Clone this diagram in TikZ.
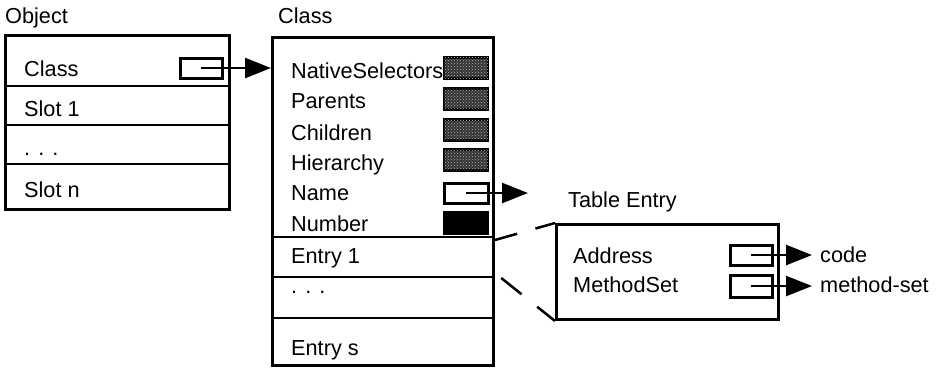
\documentclass[tikz,border=0pt]{standalone}
\usepackage{fontspec}
\setmainfont{Liberation Sans}
\usetikzlibrary{arrows.meta,patterns}

\tikzset{
  lbl/.style={anchor=base west, inner sep=0pt, font=\fontsize{21.7}{24}\selectfont},
  frame/.style={draw, line width=3pt, inner sep=0pt, anchor=north west},
  ptr/.style={draw, line width=3pt, fill=white, minimum width=42pt, minimum height=20pt, inner sep=0pt},
  solid box/.style={draw, line width=2.5pt, fill=black, minimum width=44pt, minimum height=21pt, inner sep=0pt},
  sel/.style={solid box, fill=black!80, postaction={pattern=crosshatch dots, pattern color=black!30}},
  link/.style={line width=2.5pt, -{Triangle[length=26pt,width=20pt]}},
  brk/.style={line width=2.5pt},
}

\begin{document}
\begin{tikzpicture}[x=1pt,y=-1pt]
  \useasboundingbox (0,0) rectangle (943,368);

  % Object
  \node[lbl] (objtitle) at (5,23) {Object};
  \node[frame, minimum width=224pt, minimum height=174pt] (obj) at (4,34) {};
  \foreach \y in {86,125,164}
    \draw[brk] (obj.west |- 0,\y) -- (obj.east |- 0,\y);
  \node[lbl] (oclass) at (24,76) {Class};
  \node[lbl] (oslot1) at (24,116) {Slot 1};
  \node[lbl] (odots) at (24,155) {. . .};
  \node[lbl] (oslotn) at (24,197) {Slot n};
  \node[ptr] (pclass) at (201,68) {};

  % Class
  \node[lbl] (clstitle) at (278,23) {Class};
  \node[frame, minimum width=221pt, minimum height=328pt] (cls) at (271,36) {};
  \foreach \y in {237,277,318}
    \draw[brk] (cls.west |- 0,\y) -- (cls.east |- 0,\y);
  \foreach \t/\y [count=\i] in {NativeSelectors/78, Parents/108, Children/140, Hierarchy/170, Name/200, Number/231}
    \node[lbl] (c\i) at (291,\y) {\t};
  \node[sel] (s1) at (466,68) {};
  \node[sel] (s2) at (466,99) {};
  \node[sel] (s3) at (466,130) {};
  \node[sel] (s4) at (466,160) {};
  \node[ptr, minimum width=44pt] (pname) at (466,193) {};
  \node[solid box] (s6) at (466,223) {};
  \node[lbl] (entry1) at (291,263) {Entry 1};
  \node[lbl] (cdots) at (291,293) {. . .};
  \node[lbl] (entrys) at (291,355) {Entry s};

  \draw[link] (pclass.center) -- (cls.west |- pclass.center);
  \coordinate (nametip) at (528,193);
  \draw[link] (pname.center) -- (nametip);

  % Table Entry
  \node[lbl] (tabtitle) at (568,207) {Table Entry};
  \node[frame, minimum width=222pt, minimum height=95pt] (tab) at (555,223) {};
  \node[lbl] (addr) at (573,263) {Address};
  \node[lbl] (mset) at (573,292) {MethodSet};
  \node[ptr] (paddr) at (751,255) {};
  \node[ptr, minimum height=22pt] (pmset) at (751,286) {};
  \node[lbl] (code) at (820,262) {code};
  \node[lbl] (msettgt) at (820,292) {method-set};
  \draw[link, shorten >=8pt] (paddr.center) -- (paddr.center -| code.west);
  \draw[link, shorten >=8pt] (pmset.center) -- (pmset.center -| msettgt.west);

  % broken lines from Entry 1 to Table Entry
  \draw[brk, dash pattern=on 23pt off 19pt] (cls.east |- 0,240) -- (tab.north west);
  \draw[brk, dash pattern=on 26pt off 20pt, dash phase=38pt] (cls.east |- 0,273) -- (tab.south west);
\end{tikzpicture}
\end{document}
